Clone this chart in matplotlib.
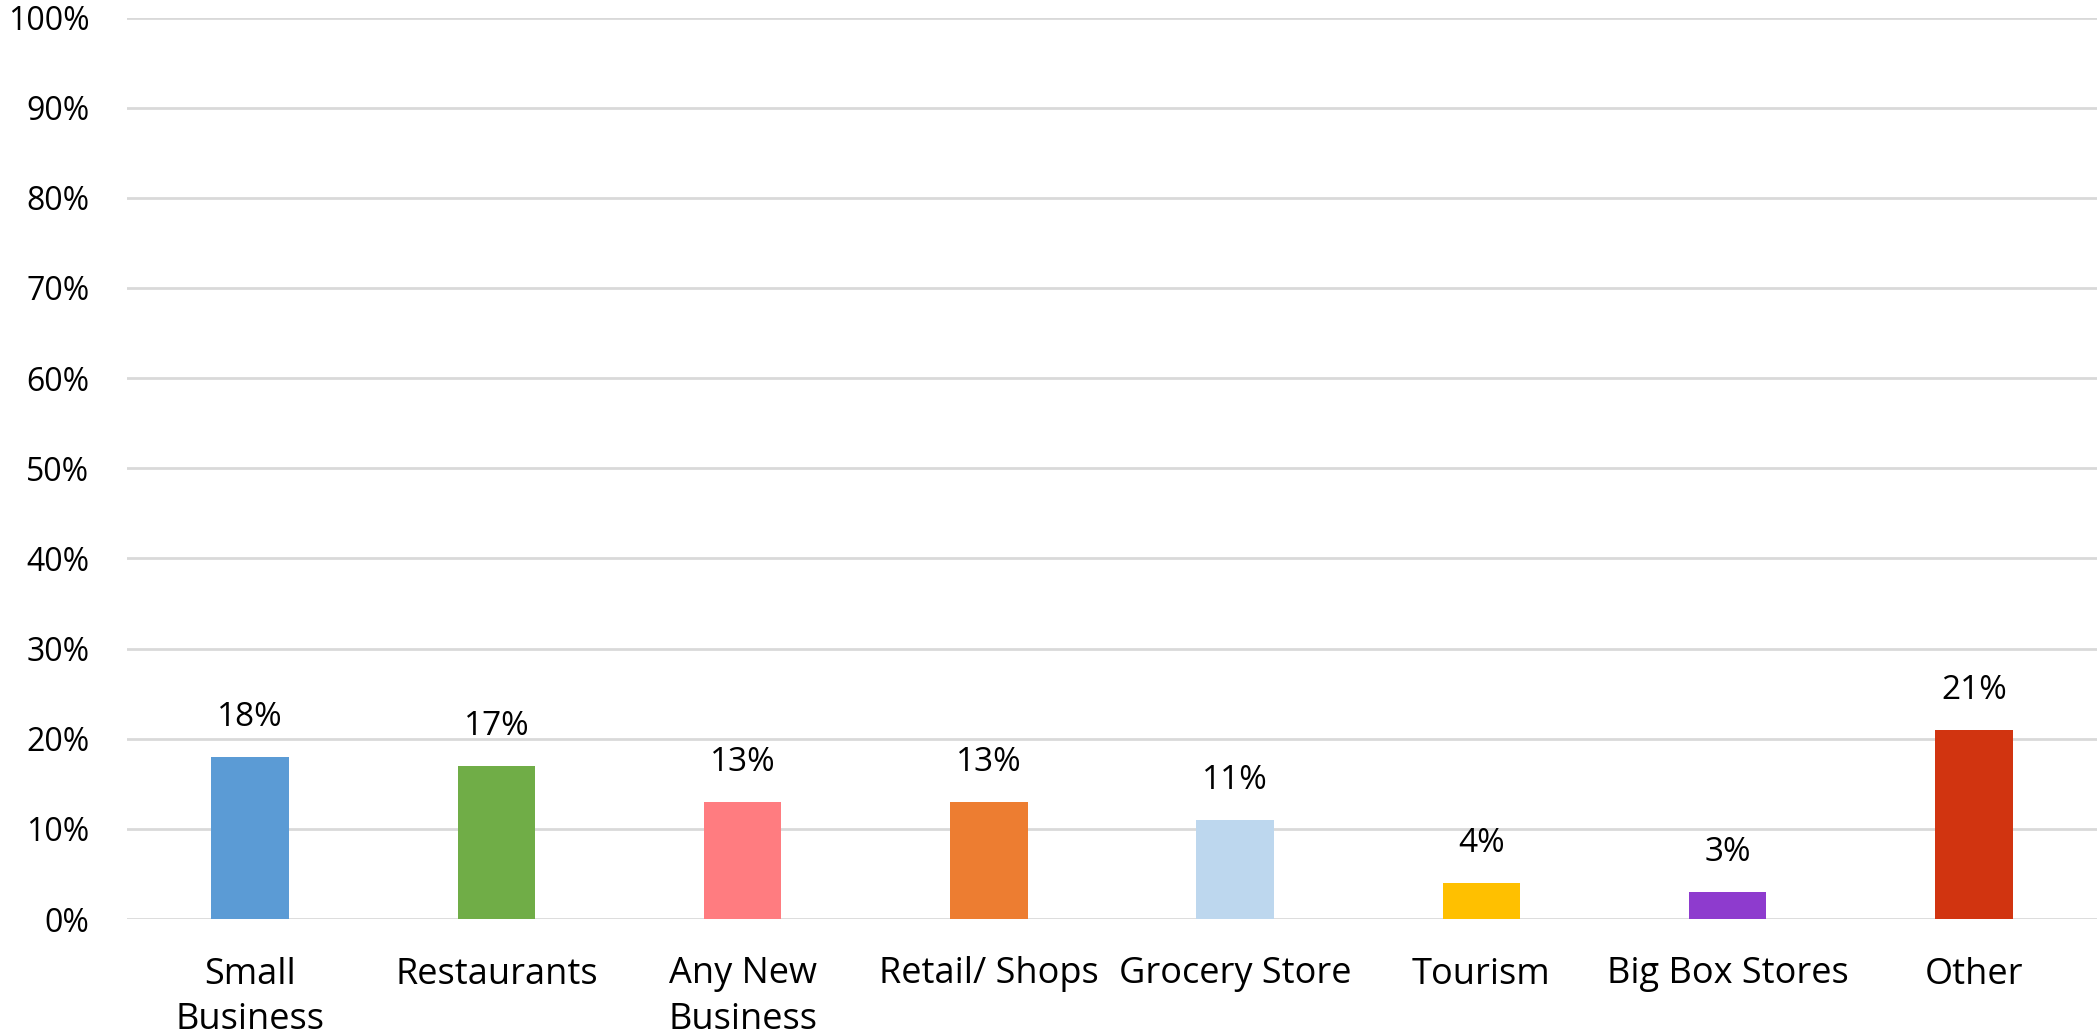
import matplotlib
matplotlib.use("Agg")
import matplotlib.pyplot as plt
from matplotlib.ticker import FuncFormatter

plt.rcParams['font.family'] = ['Open Sans', 'DejaVu Sans']

categories = ["Small\nBusiness", "Restaurants", "Any New\nBusiness", "Retail/ Shops",
              "Grocery Store", "Tourism", "Big Box Stores", "Other"]
values = [18, 17, 13, 13, 11, 4, 3, 21]
colors = ["#5B9BD5", "#70AD47", "#FF7C80", "#ED7D31", "#BDD7EE", "#FFC000", "#8E3BCE", "#D13410"]
yticks = [0, 10, 20, 30, 40, 50, 60, 70, 80, 90, 100]

fig = plt.figure(figsize=(20.97, 10.36), dpi=100)
ax = fig.add_axes([127/2097, 117/1036, 1 - 127/2097, (919 - 17.5)/1036])

x = list(range(len(categories)))
ax.bar(x, values, width=0.315, color=colors, zorder=3)
ax.set_xlim(-0.5, len(categories) - 0.5)
ax.set_ylim(0, 100)
ax.set_yticks(yticks)
ax.yaxis.set_major_formatter(FuncFormatter(lambda v, p: f"{int(v)}%"))
ax.set_xticks(x)
ax.set_xticklabels(categories, linespacing=1.37, fontsize=26)
ax.grid(axis='y', color='#D9D9D9', linewidth=2, zorder=0)
for s in ax.spines.values():
    s.set_visible(False)
ax.tick_params(axis='both', length=0, colors='black')
ax.tick_params(axis='y', pad=27, labelsize=23)
ax.tick_params(axis='x', pad=27, labelsize=26)

for xi, v in zip(x, values):
    ax.annotate(f"{v}%", (xi, v), xytext=(0, 22), textcoords='offset points',
                ha='center', va='baseline', fontsize=24, color='black')

fig.savefig("out.png", dpi=100)
